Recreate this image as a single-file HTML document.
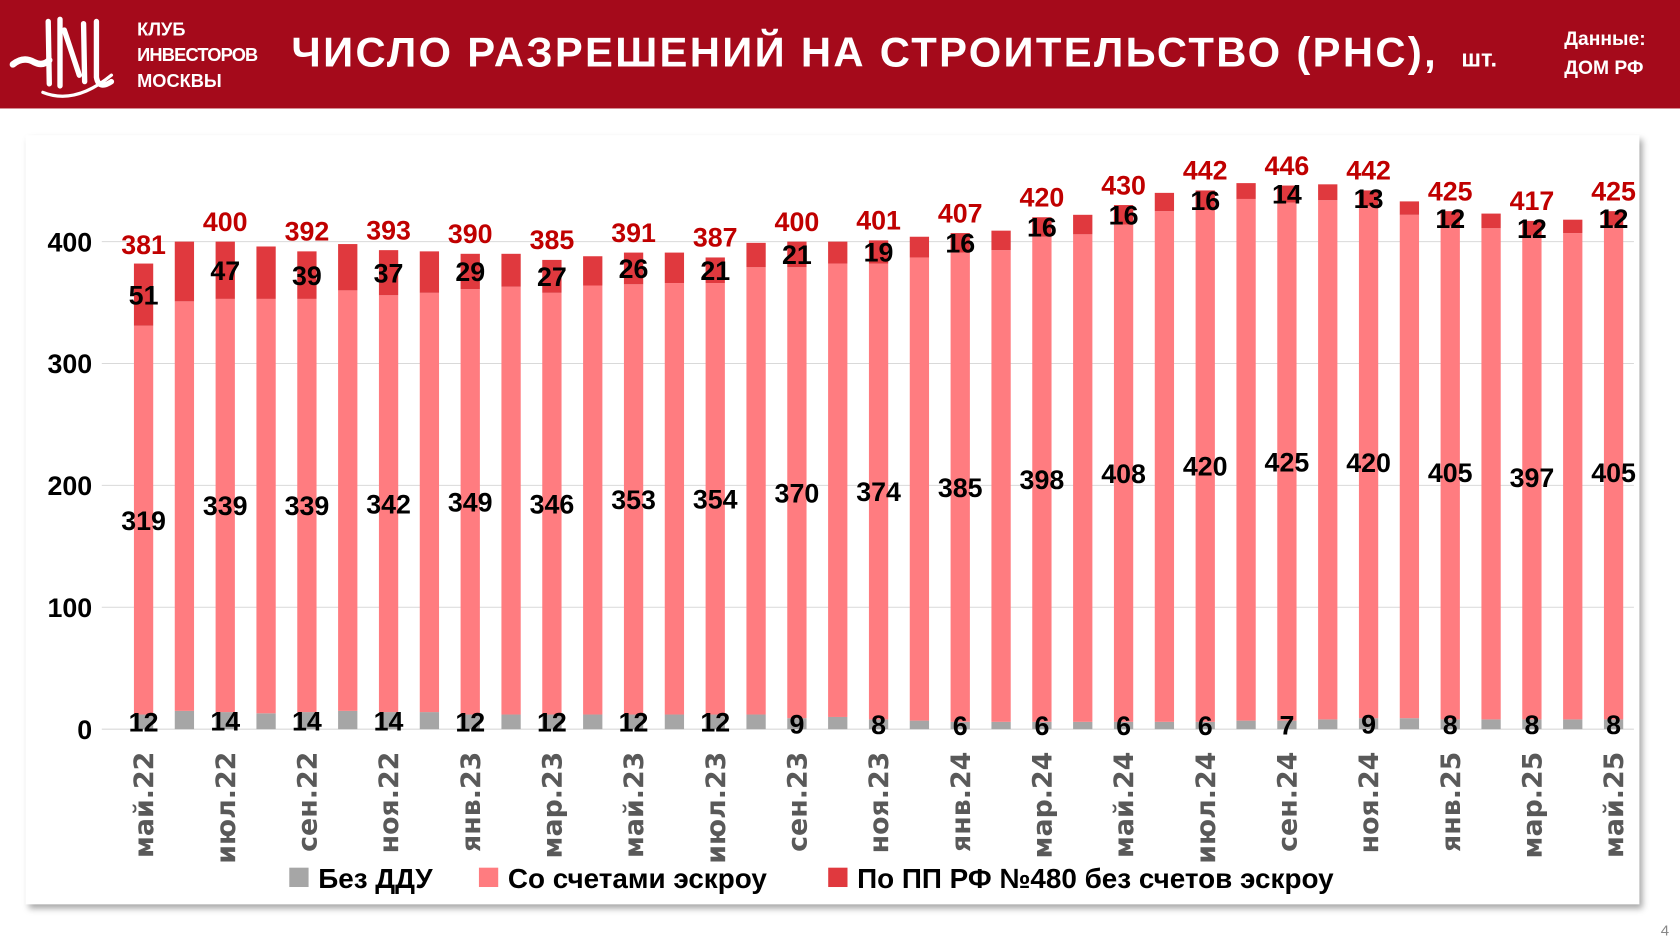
<!DOCTYPE html>
<html><head><meta charset="utf-8">
<style>
html,body{margin:0;padding:0;background:#fff;width:1680px;height:945px;overflow:hidden}
svg{display:block}
text{font-family:"Liberation Sans","DejaVu Sans",sans-serif}
</style></head>
<body>
<svg id="chart" width="1680" height="945" viewBox="0 0 1568 880" preserveAspectRatio="none" xmlns="http://www.w3.org/2000/svg">
<defs>
<filter id="sh" x="-5%" y="-5%" width="110%" height="110%"><feDropShadow dx="3" dy="4" stdDeviation="3" flood-color="#000" flood-opacity="0.35"/></filter>
</defs>
<rect x="0" y="0" width="1568" height="101" fill="#a50a1b"/>
<g fill="none" stroke="#fff" stroke-linecap="round">
<path d="M12 60 Q22 52 32 58 Q40 62 46 56" stroke-width="6"/>
<path d="M45 20 L46 78 M56 18 L56 80" stroke-width="5"/>
<path d="M60 28 L74 70 M78 22 L79 76 M90 20 L90 72 Q92 84 104 76" stroke-width="5"/>
<path d="M40 86 Q70 98 104 70" stroke-width="3"/>
</g>
<text x="128" y="33" font-size="17" font-weight="bold" fill="#fff">КЛУБ</text>
<text x="128" y="57" font-size="17" font-weight="bold" fill="#fff" textLength="113">ИНВЕСТОРОВ</text>
<text x="128" y="81" font-size="17" font-weight="bold" fill="#fff">МОСКВЫ</text>
<text x="272" y="62" font-size="39" font-weight="bold" fill="#fff" textLength="1068">ЧИСЛО РАЗРЕШЕНИЙ НА СТРОИТЕЛЬСТВО (РНС),</text>
<text x="1364" y="62" font-size="22" font-weight="bold" fill="#fff">шт.</text>
<text x="1460" y="42" font-size="18" font-weight="bold" fill="#fff">Данные:</text>
<text x="1460" y="69" font-size="18" font-weight="bold" fill="#fff">ДОМ РФ</text>
<rect x="24" y="126" width="1506" height="716" fill="#fff" filter="url(#sh)"/>
<g id="plot"></g>
<text x="1550" y="871" font-size="14" fill="#888">4</text>
</svg>
<script>
const categories=["май.22","июн.22","июл.22","авг.22","сен.22","окт.22","ноя.22","дек.22","янв.23","фев.23","мар.23","апр.23","май.23","июн.23","июл.23","авг.23","сен.23","окт.23","ноя.23","дек.23","янв.24","фев.24","мар.24","апр.24","май.24","июн.24","июл.24","авг.24","сен.24","окт.24","ноя.24","дек.24","янв.25","фев.25","мар.25","апр.25","май.25"];
const noDdu=[12,15,14,13,14,15,14,14,12,12,12,12,12,12,12,12,9,10,8,7,6,6,6,6,6,6,6,7,7,8,9,9,8,8,8,8,8];
const escrow=[319,336,339,340,339,345,342,344,349,351,346,352,353,354,354,367,370,372,374,380,385,387,398,400,408,419,420,428,425,426,420,413,405,403,397,399,405];
const pp480=[51,49,47,43,39,38,37,34,29,27,27,24,26,25,21,20,21,18,19,17,16,16,16,16,16,15,16,13,14,13,13,11,12,12,12,11,12];
const totals=[381,400,400,396,392,398,393,392,390,390,385,388,391,391,387,399,400,400,401,404,407,409,420,422,430,440,442,448,446,447,442,433,425,423,417,418,425];
const yTicks=[0,100,200,300,400];
const NS="http://www.w3.org/2000/svg";
const g=document.getElementById('plot');
const y0=679, pxPer=1.135, x0=134, step=(1506-134)/36, bw=18;
const Y=v=>y0-v*pxPer, X=i=>x0+i*step;
function mk(t,a,txt){const e=document.createElementNS(NS,t);for(const k in a)e.setAttribute(k,a[k]);if(txt!==undefined)e.textContent=txt;g.appendChild(e);return e;}
yTicks.forEach(v=>{
 const l=mk('line',{x1:95,x2:1525,y1:Y(v),y2:Y(v),stroke:'#d9d9d9','stroke-width':1});
 
 
 const t=mk('text',{x:86,y:Y(v)+9,'text-anchor':'end','font-size':25,'font-weight':'bold',fill:'#000'},v);
 
 
});
categories.forEach((c,i)=>{
 const x=X(i)-bw/2;
 const a=noDdu[i],b=escrow[i],p=pp480[i];
 const r1=mk('rect',{x:x,y:Y(a),width:bw,height:a*pxPer,fill:'#a6a6a6'});
 
 
 const r2=mk('rect',{x:x,y:Y(a+b),width:bw,height:b*pxPer,fill:'#ff7c80'});
 
 
 const r3=mk('rect',{x:x,y:Y(a+b+p),width:bw,height:p*pxPer,fill:'#e0393e'});
 
 
 if(i%2===0){
  const cx=X(i);
  const st={'text-anchor':'middle','font-size':25,'font-weight':'bold',fill:'#000'};
  const t1=mk('text',Object.assign({},st,{x:cx,y:Y(a/2)+9}),a);
  
  
  const t2=mk('text',Object.assign({},st,{x:cx,y:Y(a+b/2)+9}),b);
  
  
  const t3=mk('text',Object.assign({},st,{x:cx,y:Y(a+b+p/2)+9}),p);
  
  
  const t4=mk('text',Object.assign({},st,{x:cx,y:Y(totals[i])-10,fill:'#c00000'}),totals[i]);
  
  
  const xl=mk('text',{x:0,y:0,'text-anchor':'end','font-size':25,'font-weight':'bold',fill:'#595959',transform:`translate(${cx+9},700) rotate(-90)`,style:'font-family:"DejaVu Sans",sans-serif'},c);
  
  
 }
});
const leg=[["#a6a6a6","Без ДДУ",270],["#ff7c80","Со счетами эскроу",447],["#e0393e","По ПП РФ №480 без счетов эскроу",773]];
leg.forEach((l,k)=>{
 const r=mk('rect',{x:l[2],y:808,width:18,height:18,fill:l[0]});
 
 
 const t=mk('text',{x:l[2]+27,y:827,'font-size':26,'font-weight':'bold',fill:'#000'},l[1]);
 
 
});
</script>
</body></html>
